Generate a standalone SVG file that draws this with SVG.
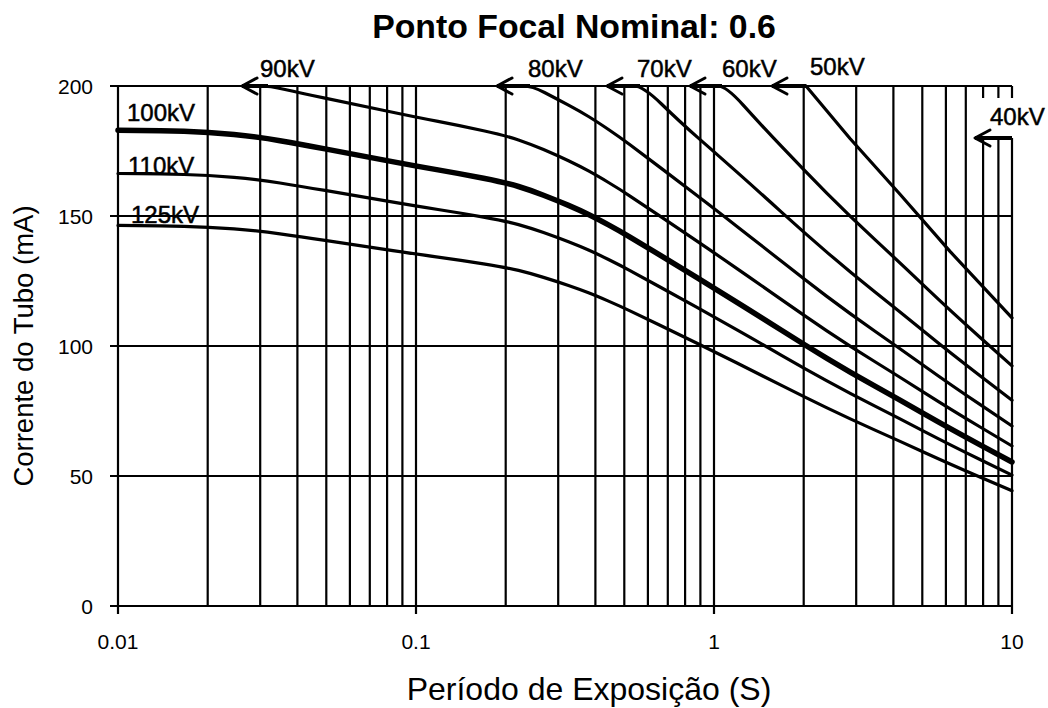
<svg xmlns="http://www.w3.org/2000/svg" width="1048" height="708" viewBox="0 0 1048 708">
<style>
.g{stroke:#000;stroke-width:2.2;fill:none}
.c{stroke:#000;stroke-width:3.2;fill:none;stroke-linejoin:round;stroke-linecap:round}
.t{stroke-width:5.5}
.al{stroke:#000;stroke-width:4;fill:none}
.ah{stroke:#000;stroke-width:3;fill:none;stroke-linecap:round;stroke-linejoin:round}
.lb{font-family:"Liberation Sans",Arial,sans-serif;font-size:24px;fill:#000;stroke:#000;stroke-width:0.5}
.tk{font-family:"Liberation Sans",Arial,sans-serif;font-size:21px;fill:#000}
.ax{font-family:"Liberation Sans",Arial,sans-serif;fill:#000}
</style>
<rect width="1048" height="708" fill="#fff"/>
<text class="ax" x="574" y="38" text-anchor="middle" font-size="33.8" font-weight="bold">Ponto Focal Nominal: 0.6</text>
<g id="grid">
<path class="g" d="M110 86H1012M110 216H1012M110 346H1012M110 476H1012M110 606H1012"/>
<path class="g" d="M118 86V614M207.7 86V606M260.2 86V606M297.4 86V606M326.3 86V606M349.9 86V606M369.8 86V606M387.1 86V606M402.4 86V606M416 86V614M505.7 86V606M558.2 86V606M595.4 86V606M624.3 86V606M647.9 86V606M667.8 86V606M685.1 86V606M700.4 86V606M714 86V614M803.7 86V606M856.2 86V606M893.4 86V606M922.3 86V606M945.9 86V606M965.8 86V606M983.1 86V98M983.1 138V606M998.4 86V98M998.4 138V606M1012 86V98M1012 138V614"/>
</g>
<g id="axis-labels">
<text class="tk" x="93" y="93.5" text-anchor="end">200</text>
<text class="tk" x="93" y="223.5" text-anchor="end">150</text>
<text class="tk" x="93" y="353.5" text-anchor="end">100</text>
<text class="tk" x="93" y="483.5" text-anchor="end">50</text>
<text class="tk" x="93" y="613.5" text-anchor="end">0</text>
<text class="tk" x="118" y="649" text-anchor="middle">0.01</text>
<text class="tk" x="416" y="649" text-anchor="middle">0.1</text>
<text class="tk" x="714" y="649" text-anchor="middle">1</text>
<text class="tk" x="1012" y="649" text-anchor="middle">10</text>
<text class="ax" x="589" y="700" text-anchor="middle" font-size="32">Período de Exposição (S)</text>
<text class="ax" transform="translate(33,346) rotate(-90)" text-anchor="middle" font-size="27.5">Corrente do Tubo (mA)</text>
</g>
<g id="curves">
<g id="kv125">
<path class="c" d="M118,225.4 L139,225.6 Q160,225.8 184,226.3 Q208,226.8 234,228.9 Q260,231 280,233.8 Q300,236.6 325,240.35 Q350,244.1 383,249.1 Q416,254.1 438,257.1 Q460,260.1 483.5,263.85 Q507,267.6 518.5,270.4 Q530,273.2 543.5,277.35 Q557,281.5 568.5,285.45 Q580,289.4 588.5,292.75 Q597,296.1 608.5,301.1 Q620,306.1 630,310.85 Q640,315.6 660,325.3 Q680,335 697,343.3 Q714,351.6 737,363.05 Q760,374.5 781.5,385.4 Q803,396.3 826.5,407.65 Q850,419 875,430.15 Q900,441.3 925,452.7 Q950,464.1 981,477.45 L1012,490.8"/>
<text class="lb" x="131" y="223">125kV</text>
</g>
<g id="kv110">
<path class="c" d="M118,173.5 L139,173.7 Q160,173.9 184,174.5 Q208,175.1 234,177.45 Q260,179.8 280,183 Q300,186.2 325,190.45 Q350,194.7 383,200.4 Q416,206.1 438,209.5 Q460,212.9 483.5,217.15 Q507,221.4 518.5,224.6 Q530,227.8 543.5,232.55 Q557,237.3 568.5,241.8 Q580,246.3 588.5,250.05 Q597,253.8 608.5,259.5 Q620,265.2 630,270.6 Q640,276 660,287 Q680,298 697,307.45 Q714,316.9 737,329.9 Q760,342.9 781.5,355.3 Q803,367.7 826.5,380.6 Q850,393.5 875,406.15 Q900,418.8 925,431.8 Q950,444.8 981,459.95 L1012,475.1"/>
<text class="lb" x="128" y="174">110kV</text>
</g>
<g id="kv100">
<path class="c t" d="M118,130.2 L139,130.45 Q160,130.7 184,131.35 Q208,132 234,134.6 Q260,137.2 280,140.7 Q300,144.2 325,148.9 Q350,153.6 383,159.85 Q416,166.1 438,169.85 Q460,173.6 483.5,178.3 Q507,183 518.5,186.5 Q530,190 543.5,195.2 Q557,200.4 568.5,205.35 Q580,210.3 588.5,214.45 Q597,218.6 608.5,224.85 Q620,231.1 630,237.05 Q640,243 660,255.1 Q680,267.2 697,277.6 Q714,288 737,302.3 Q760,316.6 781.5,330.25 Q803,343.9 826.5,358.1 Q850,372.3 875,386.2 Q900,400.1 925,414.4 Q950,428.7 981,445.35 L1012,462"/>
<text class="lb" x="127" y="121">100kV</text>
</g>
<g id="kv90">
<path class="c" d="M248,86 L259,86 Q270,86 285,89.45 Q300,92.9 325,98.1 Q350,103.3 383,110.25 Q416,117.2 438,121.4 Q460,125.6 483.5,130.8 Q507,136 518.5,139.9 Q530,143.8 543.5,149.55 Q557,155.3 568.5,160.8 Q580,166.3 588.5,170.95 Q597,175.6 608.5,182.5 Q620,189.4 630,196.05 Q640,202.7 660,216.15 Q680,229.6 697,241.15 Q714,252.7 737,268.6 Q760,284.5 781.5,299.65 Q803,314.8 826.5,330.55 Q850,346.3 875,361.75 Q900,377.2 925,393.1 Q950,409 981,427.5 L1012,446"/>
<path class="al" d="M242 86H268"/>
<polyline class="ah" points="257,78 242,86 257,94"/>
<text class="lb" x="260" y="77">90kV</text>
</g>
<g id="kv80">
<path class="c" d="M515,86 L523.5,86 Q532,86 544.5,92.5 Q557,99 568.5,105.15 Q580,111.3 588.5,116.5 Q597,121.7 608.5,129.5 Q620,137.3 630,144.8 Q640,152.3 660,167.4 Q680,182.5 697,195.5 Q714,208.5 737,226.4 Q760,244.3 781.5,261.35 Q803,278.4 826.5,296.1 Q850,313.8 875,331.2 Q900,348.6 925,366.5 Q950,384.4 981,405.2 L1012,426"/>
<path class="al" d="M497 86H530"/>
<polyline class="ah" points="512,78 497,86 512,94"/>
<text class="lb" x="528" y="77">80kV</text>
</g>
<g id="kv70">
<path class="c" d="M625,86 L634,86 Q643,86 661.5,104 Q680,122 697,136.85 Q714,151.7 737,172.15 Q760,192.6 781.5,212.1 Q803,231.6 826.5,251.85 Q850,272.1 875,291.95 Q900,311.8 925,332.25 Q950,352.7 981,376.45 L1012,400.2"/>
<path class="al" d="M607 86H640"/>
<polyline class="ah" points="622,78 607,86 622,94"/>
<text class="lb" x="637" y="77">70kV</text>
</g>
<g id="kv60">
<path class="c" d="M710,86 L718,86 Q726,86 743,104.85 Q760,123.7 781.5,146.45 Q803,169.2 826.5,192.8 Q850,216.4 875,239.6 Q900,262.8 925,286.65 Q950,310.5 981,338.2 L1012,365.9"/>
<path class="al" d="M690 86H722"/>
<polyline class="ah" points="705,78 690,86 705,94"/>
<text class="lb" x="722" y="77">60kV</text>
</g>
<g id="kv50">
<polyline class="c" points="806,86 850,138.5 900,194.2 950,251.4 1012,317.9"/>
<path class="al" d="M772 86H806"/>
<polyline class="ah" points="787,78 772,86 787,94"/>
<text class="lb" x="810" y="75">50kV</text>
</g>
<g id="kv40">
<path class="al" d="M975 138H1012"/>
<polyline class="ah" points="990,130 975,138 990,146"/>
<text class="lb" x="990" y="125">40kV</text>
</g>
</g>
</svg>
